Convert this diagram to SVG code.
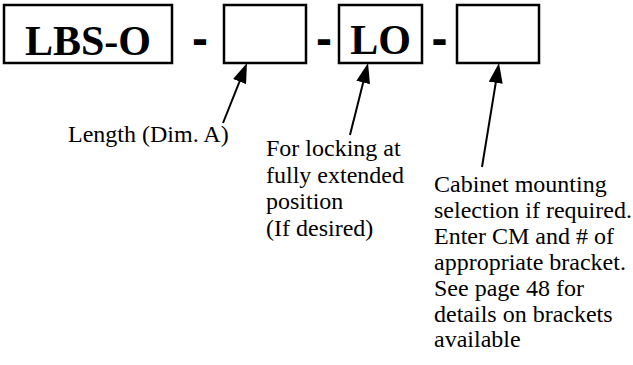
<svg xmlns="http://www.w3.org/2000/svg" width="633" height="365" viewBox="0 0 633 365">
<style>
.box{fill:#fff;stroke:#000;stroke-width:2.5}
.big{font-family:"Liberation Serif","Times New Roman",serif;font-weight:bold;font-size:42px;fill:#000;text-anchor:middle}
.dash{font-family:"Liberation Sans",Arial,sans-serif;font-weight:bold;font-size:48px;fill:#000;text-anchor:middle}
.lbl{font-family:"Liberation Serif","Times New Roman",serif;font-size:24px;fill:#000}
.conn{stroke:#000;stroke-width:2;fill:none}
</style>
<defs>
<marker id="ah" markerUnits="userSpaceOnUse" markerWidth="20" markerHeight="14" refX="12" refY="7" orient="auto" viewBox="0 0 20 14">
<path d="M0,0 L20,7 L0,14 z" fill="#000"/>
</marker>
</defs>
<rect width="633" height="365" fill="#fff"/>
<g id="node-lbso">
<rect class="box" x="4" y="5" width="168" height="58"/>
<text class="big" x="88" y="55">LBS-O</text>
</g>
<text class="dash" x="200" y="55">-</text>
<g id="node-length">
<rect class="box" x="224" y="5" width="82" height="58"/>
</g>
<text class="dash" x="324" y="55">-</text>
<g id="node-lo">
<rect class="box" x="339" y="5" width="83" height="58"/>
<text class="big" x="380.5" y="54">LO</text>
</g>
<text class="dash" x="439.5" y="55">-</text>
<g id="node-cm">
<rect class="box" x="457" y="5" width="82" height="58"/>
</g>
<g id="label-length">
<text class="lbl" x="68" y="142">Length (Dim. A)</text>
</g>
<g id="label-lock">
<text class="lbl" x="266" y="156">For locking at</text>
<text class="lbl" x="266" y="182.5">fully extended</text>
<text class="lbl" x="266" y="209">position</text>
<text class="lbl" x="266" y="235.5">(If desired)</text>
</g>
<g id="label-cabinet">
<text class="lbl" x="434" y="191.5">Cabinet mounting</text>
<text class="lbl" x="434" y="217.5">selection if required.</text>
<text class="lbl" x="434" y="243.5">Enter CM and # of</text>
<text class="lbl" x="434" y="269.5">appropriate bracket.</text>
<text class="lbl" x="434" y="295.5">See page 48 for</text>
<text class="lbl" x="434" y="321.5">details on brackets</text>
<text class="lbl" x="434" y="347">available</text>
</g>
<g id="connectors">
<line class="conn" x1="223" y1="123" x2="244" y2="70.4" marker-end="url(#ah)"/>
<line class="conn" x1="350" y1="135" x2="366.1" y2="70.8" marker-end="url(#ah)"/>
<line class="conn" x1="482" y1="167" x2="497.7" y2="70.9" marker-end="url(#ah)"/>
</g>
</svg>
